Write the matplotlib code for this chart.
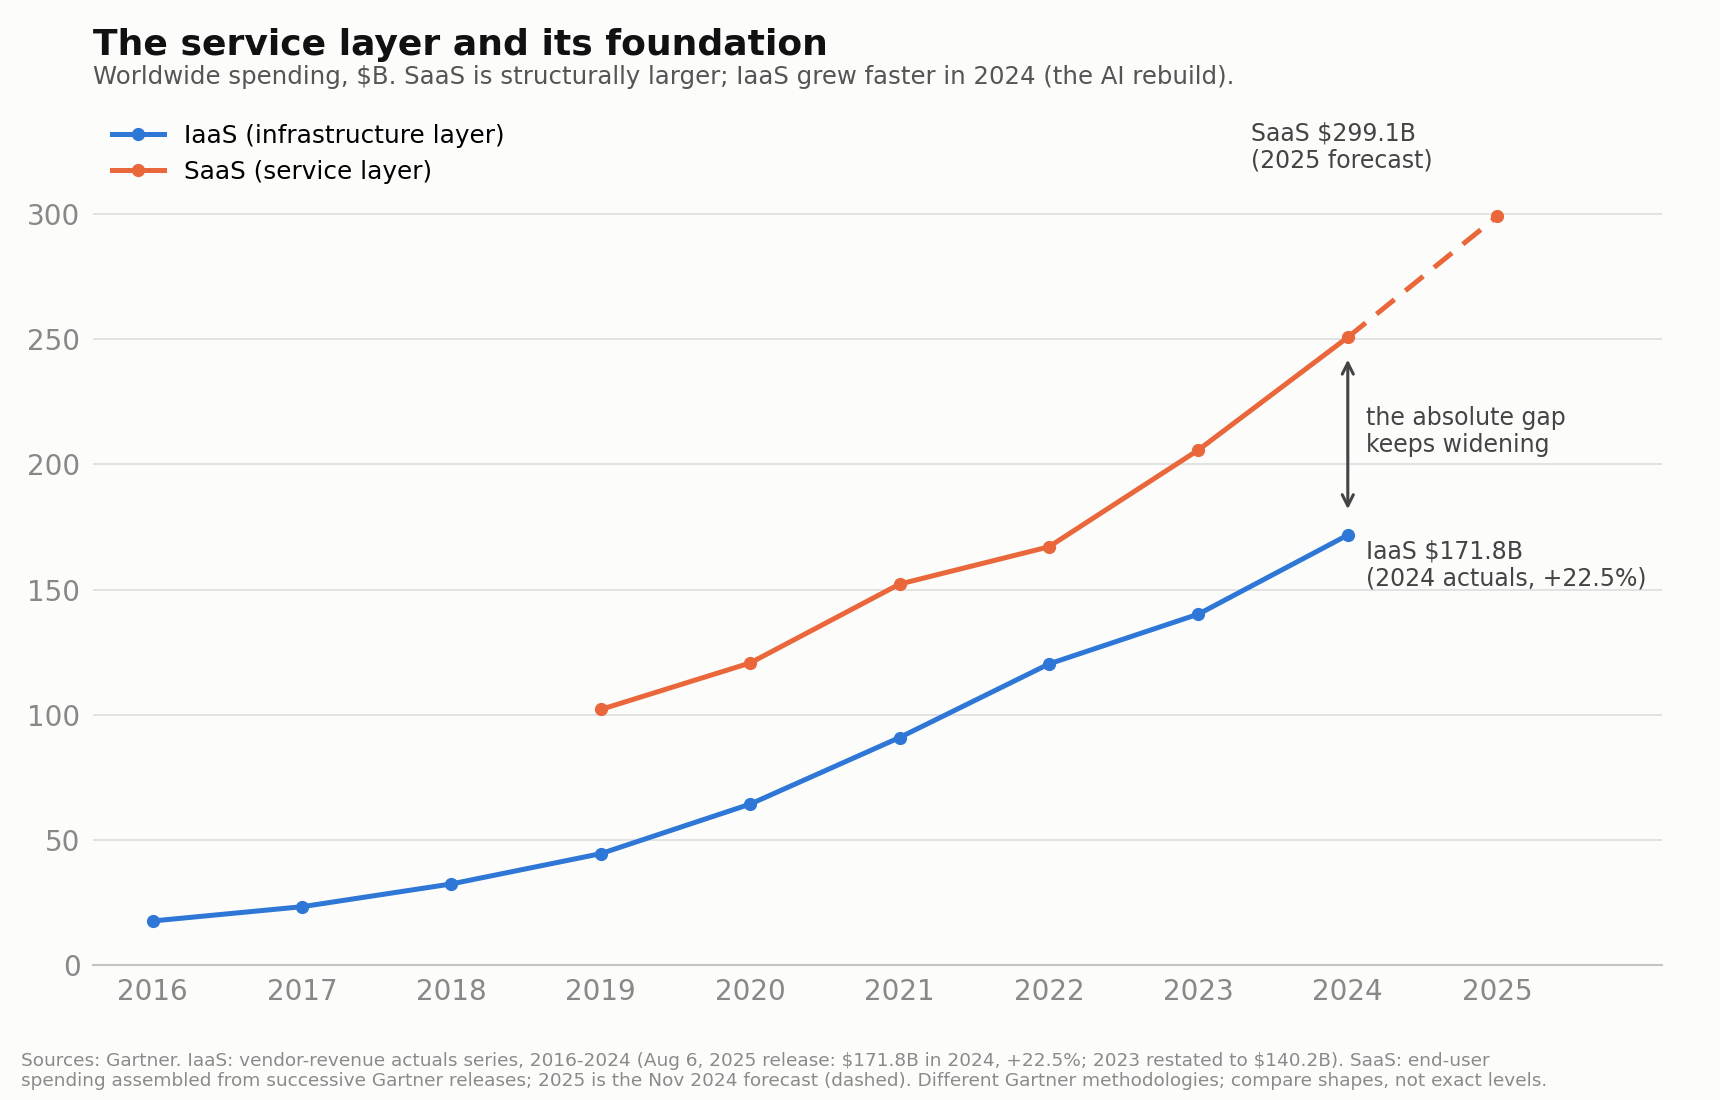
import matplotlib.pyplot as plt

plt.rcParams['text.parse_math'] = False

# values in $B
iaas_years = [2016, 2017, 2018, 2019, 2020, 2021, 2022, 2023, 2024]
iaas_vals = [17.6, 23.3, 32.4, 44.5, 64.3, 90.9, 120.3, 140.2, 171.8]
saas_years = [2019, 2020, 2021, 2022, 2023, 2024]
saas_vals = [102.1, 120.7, 152.2, 167.1, 205.8, 250.8]
saas_fc_years = [2024, 2025]
saas_fc_vals = [250.8, 299.1]
xticks = list(range(2016, 2026))
yticks = [0, 50, 100, 150, 200, 250, 300]

blue = '#2e77d6'
orange = '#e9673a'
ink = '#444444'
bg = '#fcfcfb'

fig = plt.figure(figsize=(17.2, 11), dpi=100, facecolor=bg)
ax = fig.add_axes([0.054, 0.1227, 0.912, 0.785])
ax.set_facecolor(bg)

ax.plot(iaas_years, iaas_vals, color=blue, lw=3.6, marker='o', ms=8.5,
        label='IaaS (infrastructure layer)', zorder=3)
ax.plot(saas_years, saas_vals, color=orange, lw=3.6, marker='o', ms=8.5,
        label='SaaS (service layer)', zorder=3)
ax.plot(saas_fc_years, saas_fc_vals, color=orange, lw=3.6, ls=(0, (4.6, 2.8)),
        zorder=3)
ax.plot(saas_fc_years[-1:], saas_fc_vals[-1:], 'o', color=orange, ms=8.5, zorder=3)

ax.set_xlim(2015.6, 2026.1)
ax.set_ylim(0, 345)
ax.set_xticks(xticks)
ax.set_yticks(yticks)
ax.tick_params(length=0, labelsize=20, labelcolor='#888888', pad=9)
ax.grid(axis='y', color='#dddddd', lw=1.2)
ax.set_axisbelow(True)
for s in ['top', 'right', 'left']:
    ax.spines[s].set_visible(False)
ax.spines['bottom'].set_color('#c4c4c4')
ax.spines['bottom'].set_linewidth(1.5)

leg = ax.legend(loc='upper left', bbox_to_anchor=(-0.002, 1.0), frameon=False,
                fontsize=17.8, handlelength=2.1, labelspacing=0.5)

# gap arrow
ax.annotate('', xy=(2024, 181), xytext=(2024, 243),
            arrowprops=dict(arrowstyle='<->', color=ink, lw=2.2,
                            mutation_scale=20))
ax.text(2024.12, 213, 'the absolute gap\nkeeps widening', fontsize=17,
        color=ink, va='center', ha='left', linespacing=1.15)
ax.text(2024.12, 170, 'IaaS $171.8B\n(2024 actuals, +22.5%)', fontsize=17,
        color=ink, va='top', ha='left', linespacing=1.15)
ax.text(2023.35, 337, 'SaaS $299.1B\n(2025 forecast)', fontsize=17,
        color=ink, va='top', ha='left', linespacing=1.15)

fig.text(0.054, 0.959, 'The service layer and its foundation', fontsize=26,
         fontweight='bold', color='#111111', va='center')
fig.text(0.054, 0.930, 'Worldwide spending, $B. SaaS is structurally larger; '
         'IaaS grew faster in 2024 (the AI rebuild).', fontsize=17.6,
         color='#555555', va='center')
fig.text(0.012, 0.009, 'Sources: Gartner. IaaS: vendor-revenue actuals series, '
         '2016-2024 (Aug 6, 2025 release: $171.8B in 2024, +22.5%; 2023 restated '
         'to $140.2B). SaaS: end-user\nspending assembled from successive Gartner '
         'releases; 2025 is the Nov 2024 forecast (dashed). Different Gartner '
         'methodologies; compare shapes, not exact levels.',
         fontsize=13.3, color='#8a8a8a', va='bottom', linespacing=1.15)

fig.savefig('out.png', dpi=100, facecolor=bg)
